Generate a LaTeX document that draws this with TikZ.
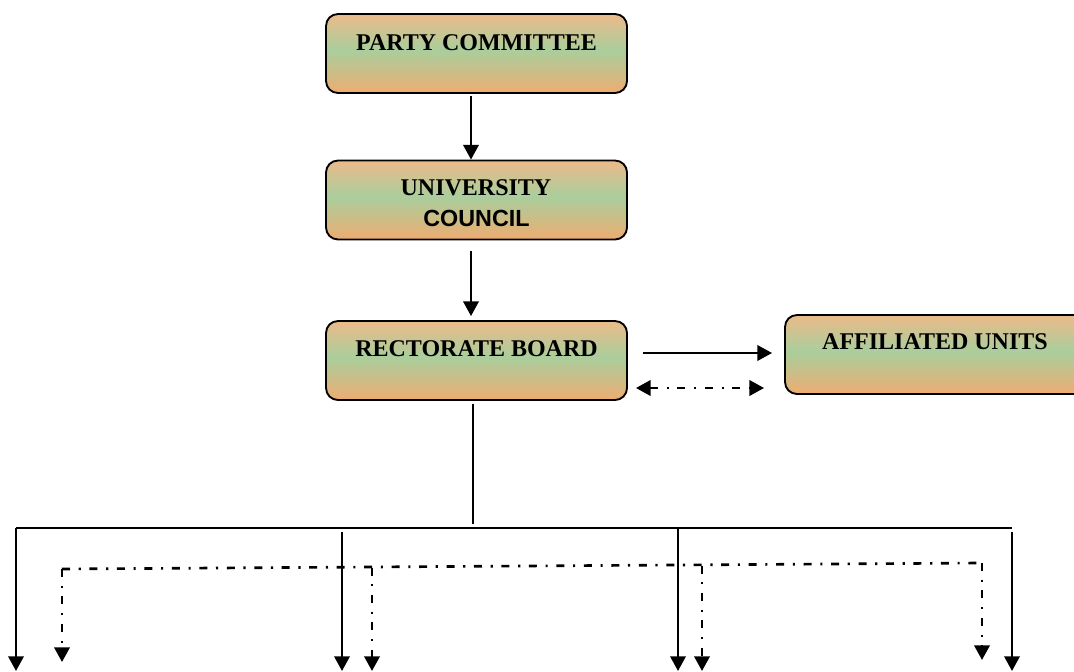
\documentclass[tikz,border=0pt]{standalone}
\usepackage{fontspec}
\setmainfont{Liberation Serif}
\newfontfamily\arialfont{Liberation Sans}
\usetikzlibrary{arrows.meta,calc}
\definecolor{otop}{RGB}{236,186,138}
\definecolor{ogreen}{RGB}{169,206,156}
\definecolor{obot}{RGB}{238,172,114}
\pgfdeclareverticalshading{boxshade}{100bp}{color(0bp)=(obot); color(25bp)=(obot); color(52bp)=(ogreen); color(75bp)=(otop); color(100bp)=(otop)}
\tikzset{
  orgbox/.style={draw=black, line width=1.4pt, rounded corners=9pt, shading=boxshade,
    minimum width=225.75pt, minimum height=59.25pt, inner sep=0pt},
  boxtext/.style={anchor=base, font=\fontsize{18}{20}\selectfont\bfseries, inner sep=0pt},
  conn/.style={line width=1.8pt, -{Triangle[width=11.5pt,length=11pt]}},
  plain/.style={line width=1.8pt},
  dd/.style={line width=2pt, dash pattern=on 6pt off 6.5pt on 1.6pt off 6.5pt},
}
\begin{document}
\begin{tikzpicture}[x=0.75pt,y=-0.75pt]
\useasboundingbox (0,0) rectangle (1074,671);
\clip (0,0) rectangle (1074,671);
% boxes
\node[orgbox] (pc) at (476.5,53.5) {};
\node[orgbox] (uc) at (476.5,200) {};
\node[orgbox] (rb) at (476.5,360.5) {};
\node[orgbox, minimum width=232.5pt] (au) at (940,354.5) {};
% texts
\node[boxtext] (pct) at (476.5,50) {PARTY COMMITTEE};
\node[boxtext] (uct1) at (476,195.5) {UNIVERSITY};
\node[boxtext, font=\fontsize{17.5}{20}\selectfont\bfseries\arialfont] (uct2) at (476.5,226) {COUNCIL};
\node[boxtext] (rbt) at (476.5,356) {RECTORATE BOARD};
\node[boxtext] (aut) at (935,349) {AFFILIATED UNITS};
% vertical connectors
\draw[conn] ($(pc.south)+(-5.5,2)$) -- ($(uc.north)+(-5.5,0)$);
\draw[conn] ($(uc.south)+(-5.5,11)$) -- ($(rb.north)+(-5.5,-4)$);
% rectorate <-> affiliated
\draw[conn] ($(rb.east)+(15,-7.5)$) -- ($(au.west)+(-12,-1.5)$);
\draw[dd, {Triangle[width=11.5pt,length=11pt]}-{Triangle[width=11.5pt,length=11pt]}] ($(rb.east)+(8,27.5)$) -- ($(au.west)+(-20,33.5)$);
% bus
\coordinate (stem) at (473,524);
\coordinate (bl) at (16,528);
\coordinate (br) at (1012,528);
\draw[plain] ($(rb.south)+(-3.5,3)$) -- (stem);
\draw[plain] (br) -- (bl);
% solid drops
\coordinate (s1) at (16,671);
\coordinate (s2) at (342,671);
\coordinate (s3) at (678,671);
\coordinate (s4) at (1012,671);
\draw[conn] (bl) -- (s1);
\draw[conn] (342,532) -- (s2);
\draw[conn] (678,528) -- (s3);
\draw[conn] (1012,532) -- (s4);
% dash-dot network
\coordinate (dl) at (62,569);
\coordinate (dr) at (982,563);
\coordinate (t1) at (62,662);
\coordinate (t4) at (982,660);
\coordinate (t2) at (372,671);
\coordinate (t3) at (702,671);
\draw[dd, -{Triangle[width=11.5pt,length=11pt]}] (dl) -- (t1);
\draw[dd] (dl) -- (dr);
\draw[dd, -{Triangle[width=11.5pt,length=11pt]}] (dr) -- (t4);
\draw[dd, -{Triangle[width=11.5pt,length=11pt]}] (372,567.5) -- (t2);
\draw[dd, -{Triangle[width=11.5pt,length=11pt]}] (702,565.5) -- (t3);
\end{tikzpicture}
\end{document}
